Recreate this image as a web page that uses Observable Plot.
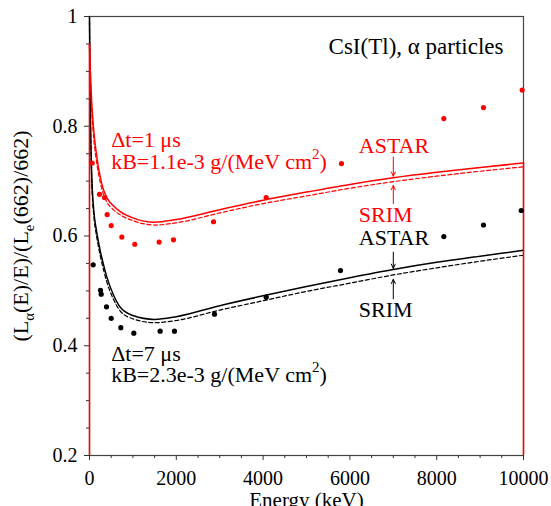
<!DOCTYPE html>
<html><head><meta charset="utf-8">
<script src="https://cdn.jsdelivr.net/npm/d3@7"></script>
<script src="https://cdn.jsdelivr.net/npm/@observablehq/plot@0.6"></script>
<style>body{margin:0;background:#fff}svg{display:block}</style>
</head><body><div id="chart"></div>
<script>
// ---- data ----
const curveEnergy = [0, 10, 25, 50, 100, 150, 200, 250, 300, 400, 550, 700, 1000, 1500, 2000, 3000, 4000, 5000, 6000, 7000, 8000, 9000, 10000];
const red1usAstar = [0.95, 0.92, 0.89, 0.845, 0.79, 0.755, 0.728, 0.707, 0.69, 0.67, 0.655, 0.645, 0.633, 0.625, 0.630, 0.648, 0.665, 0.680, 0.694, 0.706, 0.716, 0.725, 0.733];
const red1usSrim  = [0.94, 0.91, 0.875, 0.83, 0.776, 0.742, 0.717, 0.697, 0.681, 0.662, 0.648, 0.639, 0.628, 0.620, 0.624, 0.642, 0.659, 0.673, 0.687, 0.699, 0.709, 0.718, 0.726];
const black7usAstar = [1.0, 0.9, 0.8, 0.715, 0.645, 0.615, 0.592, 0.572, 0.555, 0.525, 0.493, 0.471, 0.455, 0.448, 0.453, 0.473, 0.491, 0.508, 0.524, 0.539, 0.552, 0.563, 0.574];
const black7usSrim  = [0.99, 0.89, 0.79, 0.705, 0.636, 0.606, 0.583, 0.563, 0.546, 0.516, 0.485, 0.464, 0.449, 0.442, 0.446, 0.465, 0.482, 0.499, 0.514, 0.529, 0.542, 0.554, 0.565];

const redPointE   = [62, 230, 346, 407, 500, 745, 1044, 1605, 1935, 2857, 4071, 5806, 8164, 9078, 9969];
const redPointV   = [0.733, 0.676, 0.670, 0.639, 0.619, 0.598, 0.585, 0.589, 0.593, 0.626, 0.670, 0.732, 0.814, 0.834, 0.866];
const blackPointE = [85, 253, 269, 392, 500, 722, 1021, 1628, 1959, 2880, 4071, 5783, 8164, 9078, 9947];
const blackPointV = [0.5475, 0.501, 0.494, 0.471, 0.450, 0.433, 0.423, 0.4265, 0.4265, 0.4575, 0.4885, 0.537, 0.599, 0.620, 0.6465];

const xTicks = [0, 2000, 4000, 6000, 8000, 10000];
const xMinorTicks = [500, 1000, 1500, 2500, 3000, 3500, 4500, 5000, 5500, 6500, 7000, 7500, 8500, 9000, 9500];
const yTicks = [0.2, 0.4, 0.6, 0.8, 1];
const yMinorTicks = [0.25, 0.3, 0.35, 0.45, 0.5, 0.55, 0.65, 0.7, 0.75, 0.85, 0.9, 0.95];

const titleText = "CsI(Tl), α particles";
const xLabel = "Energy (keV)";
const yLabel = "(L_α(E)/E)/(L_e(662)/662)";
const redNotes = [
  {E: 500, v: 0.7618, t: "Δt=1 μs"},
  {E: 500, v: 0.7225, t: "kB=1.1e-3 g/(MeV cm^2)"},
  {E: 6205, v: 0.7516, t: "ASTAR"},
  {E: 6205, v: 0.6264, t: "SRIM"}
];
const blackNotes = [
  {E: 500, v: 0.3731, t: "Δt=7 μs"},
  {E: 500, v: 0.3336, t: "kB=2.3e-3 g/(MeV cm^2)"},
  {E: 6205, v: 0.5827, t: "ASTAR"},
  {E: 6205, v: 0.4520, t: "SRIM"}
];
const redArrows = [{E: 7000, from: 0.744, to: 0.709}, {E: 7000, from: 0.659, to: 0.692}];
const blackArrows = [{E: 7000, from: 0.5705, to: 0.541}, {E: 7000, from: 0.4855, to: 0.521}];

// ---- tables ----
const rows = vals => curveEnergy.map((E, i) => ({E, v: vals[i]}));
const pts = (es, vs) => es.map((E, i) => ({E, v: vs[i]}));
const redA = rows(red1usAstar), redS = rows(red1usSrim);
const blkA = rows(black7usAstar), blkS = rows(black7usSrim);
const RED = "#ff0000", FONT = "Liberation Serif, Times New Roman, serif";

const chart = Plot.plot({
  width: 551, height: 506,
  marginLeft: 89, marginRight: 28, marginTop: 16, marginBottom: 51,
  style: {fontFamily: FONT, background: "#fff", color: "#000"},
  x: {domain: [0, 10000]},
  y: {domain: [0.2, 1]},
  marks: [
    Plot.frame({stroke: "#444", strokeWidth: 1.2}),
    Plot.axisX({ticks: xMinorTicks, tickSize: 3, fill: "none", label: null, stroke: "#333"}),
    Plot.axisY({ticks: yMinorTicks, tickSize: 3, fill: "none", label: null, stroke: "#333"}),
    Plot.axisX({ticks: xTicks, tickSize: 5, tickPadding: 10, tickFormat: d => String(d), fontSize: 20, fontFamily: FONT, label: null, stroke: "#333"}),
    Plot.axisY({ticks: yTicks, tickSize: 5, tickPadding: 7, tickFormat: d => String(d), fontSize: 20, fontFamily: FONT, label: null, stroke: "#333"}),
    Plot.line(blkA, {x: "E", y: "v", stroke: "#000", strokeWidth: 1.5, curve: "monotone-x"}),
    Plot.line(blkS, {x: "E", y: "v", stroke: "#000", strokeWidth: 1.2, strokeDasharray: "4,2.5", curve: "monotone-x"}),
    Plot.line(redA, {x: "E", y: "v", stroke: RED, strokeWidth: 1.5, curve: "monotone-x"}),
    Plot.line(redS, {x: "E", y: "v", stroke: RED, strokeWidth: 1.2, strokeDasharray: "4,2.5", curve: "monotone-x"}),
    Plot.ruleX([redA[0], redA[redA.length - 1]], {x: "E", y1: 0.2, y2: "v", stroke: RED, strokeWidth: 1.5}),
    Plot.dot(pts(redPointE, redPointV), {x: "E", y: "v", r: 2.6, fill: RED, stroke: "none"}),
    Plot.dot(pts(blackPointE, blackPointV), {x: "E", y: "v", r: 2.6, fill: "#000", stroke: "none"}),
    Plot.arrow(redArrows, {x: "E", y1: "from", y2: "to", stroke: RED, strokeWidth: 1, headLength: 7, headAngle: 50}),
    Plot.arrow(blackArrows, {x: "E", y1: "from", y2: "to", stroke: "#000", strokeWidth: 1, headLength: 7, headAngle: 50}),
    Plot.text(redNotes, {x: "E", y: "v", text: "t", textAnchor: "start", lineAnchor: "bottom", fill: RED, fontSize: 22, fontFamily: FONT}),
    Plot.text(blackNotes, {x: "E", y: "v", text: "t", textAnchor: "start", lineAnchor: "bottom", fill: "#000", fontSize: 22, fontFamily: FONT}),
    Plot.text([titleText], {text: d => d, frameAnchor: "top-right", dx: -20, dy: 37, textAnchor: "end", lineAnchor: "bottom", fontSize: 23, fontFamily: FONT, fill: "#000"}),
    Plot.text([xLabel], {text: d => d, frameAnchor: "bottom", dy: 51.5, textAnchor: "middle", lineAnchor: "bottom", fontSize: 21, fontFamily: FONT, fill: "#000"}),
    Plot.text([yLabel], {text: d => d, frameAnchor: "left", dx: -62, rotate: -90, textAnchor: "middle", lineAnchor: "bottom", fontSize: 22, fontFamily: FONT, fill: "#000"})
  ]
});

// rich text: ^x superscript, _x subscript
const NS = "http://www.w3.org/2000/svg";
d3.select(chart).selectAll("text").each(function() {
  const el = this, s = el.textContent;
  if (!/[\^_]/.test(s)) return;
  const g = el.closest("g");
  const fs = parseFloat(g && g.getAttribute("font-size")) || 22;
  el.textContent = "";
  const add = (txt, dy, size) => {
    const t = document.createElementNS(NS, "tspan");
    if (dy) t.setAttribute("dy", dy);
    if (size) t.setAttribute("font-size", size);
    t.textContent = txt;
    el.appendChild(t);
  };
  const re = /([\^_])(.)/g;
  let last = 0, undo = 0, m;
  while ((m = re.exec(s))) {
    if (m.index > last) { add(s.slice(last, m.index), undo); undo = 0; }
    const off = m[1] === "^" ? -0.45 * fs : 0.28 * fs;
    add(m[2], off - undo, 0.68 * fs);
    undo = -off;
    last = m.index + 2;
  }
  if (last < s.length) add(s.slice(last), undo);
});
document.getElementById("chart").appendChild(chart);
</script></body></html>
